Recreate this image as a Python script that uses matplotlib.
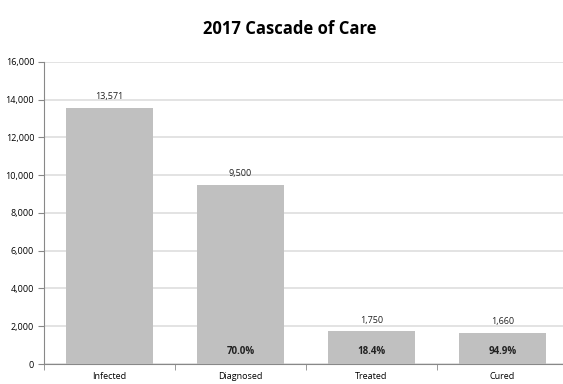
import matplotlib
matplotlib.use("Agg")
import matplotlib.pyplot as plt
from matplotlib.ticker import FuncFormatter, FixedLocator

# data
stages = ["Infected", "Diagnosed", "Treated", "Cured"]
counts = [13571, 9500, 1750, 1660]
pct_labels = ["", "70.0%", "18.4%", "94.9%"]

plt.rcParams['font.family'] = ['Open Sans', 'DejaVu Sans']

fig = plt.figure(figsize=(5.63, 3.84), dpi=100)
ax = fig.add_axes([0.078, 0.052, 0.931, 0.787])

x = list(range(len(stages)))
ax.bar(x, counts, width=0.66, color="#c0c0c0", zorder=3)

for xi, c, p in zip(x, counts, pct_labels):
    ax.text(xi, c + 330, f"{c:,}", ha="center", va="bottom", fontsize=6.5, color="#222222")
    if p:
        ax.text(xi, 650, p, ha="center", va="center", fontsize=7, fontweight="bold", color="#222222", zorder=4)

ax.set_xlim(-0.5, 3.5)
ax.set_ylim(0, 16000)
ax.set_yticks(range(0, 16001, 2000))
ax.yaxis.set_major_formatter(FuncFormatter(lambda v, p: f"{int(v):,}"))
ax.grid(axis="y", color="#dedede", linewidth=1.2, zorder=0)

ax.set_xticks(x)
ax.set_xticklabels(stages)
ax.xaxis.set_minor_locator(FixedLocator([-0.5, 0.5, 1.5, 2.5]))
ax.tick_params(axis="x", which="major", length=0, pad=6, labelsize=6.5)
ax.tick_params(axis="x", which="minor", length=4, color="#888888")
ax.tick_params(axis="y", length=4, color="#888888", labelsize=6.5, pad=3)

for s in ["top", "right"]:
    ax.spines[s].set_visible(False)
for s in ["left", "bottom"]:
    ax.spines[s].set_color("#888888")
    ax.spines[s].set_linewidth(0.8)

fig.text(0.515, 0.925, "2017 Cascade of Care", ha="center", va="center", fontsize=12, fontweight="bold")

fig.savefig("out.png", dpi=100)
